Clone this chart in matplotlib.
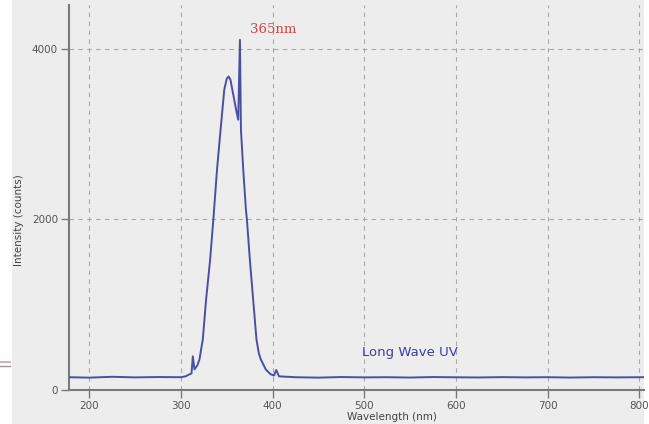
import matplotlib
matplotlib.use("Agg")
import matplotlib.pyplot as plt
from matplotlib.patches import Rectangle

# Spectrum (wavelength nm, intensity counts)
wavelength = [178, 200, 225, 250, 275, 300, 305, 309.4, 311.6, 313.0, 314.8,
              318.0, 320.3, 323.9, 327.5, 331.9, 335.4, 339.4, 343.3, 347.3, 350.0,
              352.0, 354.0, 357.1, 360.0, 362.5, 364.4, 365.5, 368.0, 370.9,
              372.0, 375.2, 378.8, 382.4, 385.0, 387.1, 392.5, 397.9, 401.5, 404.0,
              407.0, 425, 450, 475, 500, 525, 550, 575, 600, 625, 650, 675,
              700, 725, 750, 775, 805]
intensity = [150, 145, 155, 148, 152, 150, 160, 184, 195, 395, 242,
             290, 360, 594, 1062, 1530, 2000, 2585, 3053, 3522, 3650,
             3677, 3640, 3464, 3300, 3170, 4106, 3053, 2585, 2117,
             2000, 1530, 1062, 594, 430, 360, 242, 184, 170, 234,
             160, 150, 145, 152, 148, 150, 146, 152, 149, 147, 151, 148,
             150, 146, 150, 148, 150]

x_ticks = [200, 300, 400, 500, 600, 700, 800]
y_ticks = [0, 2000, 4000]
y_tick_labels = ["0", "2000", "4000"]

W, H = 649, 424
fig = plt.figure(figsize=(W / 100, H / 100), dpi=100, facecolor="white")

# light grey panel
fig.patches.append(Rectangle((12 / W, 0), (644 - 12) / W, 1, transform=fig.transFigure,
                             facecolor="#ededed", edgecolor="none", zorder=-5))
# remnants of neighbouring panel at the left edge
fig.add_artist(plt.Line2D([0, 10 / W], [1 - 362 / H, 1 - 362 / H], color="#e39a9a", lw=1.2, zorder=-4))
fig.add_artist(plt.Line2D([0, 10 / W], [1 - 366 / H, 1 - 366 / H], color="#9a9a9a", lw=1.0, zorder=-4))

left, right, top, bottom = 69, 644, 5, 390
ax = fig.add_axes([left / W, 1 - bottom / H, (right - left) / W, (bottom - top) / H])
ax.set_facecolor("none")
ax.set_zorder(1)

ax.plot(wavelength, intensity, color="#4a4fa3", lw=1.4, zorder=3)

ax.set_xlim(178, 805)
ax.set_ylim(0, 4515)
ax.set_xticks(x_ticks)
ax.set_yticks(y_ticks)
ax.set_yticklabels(y_tick_labels)

ax.grid(True, linestyle=(0, (4, 4)), color="#a8a8a8", lw=0.8)
ax.set_axisbelow(True)

for s in ["top", "right"]:
    ax.spines[s].set_visible(False)
for s in ["left", "bottom"]:
    ax.spines[s].set_color("#7a7a7a")
    ax.spines[s].set_linewidth(1.5)

ax.tick_params(axis="both", direction="out", length=6, width=1, color="#7a7a7a",
               labelsize=7.5, labelcolor="#555555", pad=2)

fig.text(19 / W, 1 - 220 / H, "Intensity (counts)", fontsize=7.5, color="#444444",
         rotation=90, ha="center", va="center")

fig.text(392 / W, 1 - 417 / H, "Wavelength (nm)", fontsize=7.5, color="#444444",
         ha="center", va="center")

ax.text(375, 4225, "365nm", color="#d04545", fontsize=9.5, family="DejaVu Serif",
        ha="left", va="center")
ax.text(497, 440, "Long Wave UV", color="#3b3fa0", fontsize=9.5, ha="left", va="center")

fig.savefig("out.png", dpi=100, facecolor="white")
